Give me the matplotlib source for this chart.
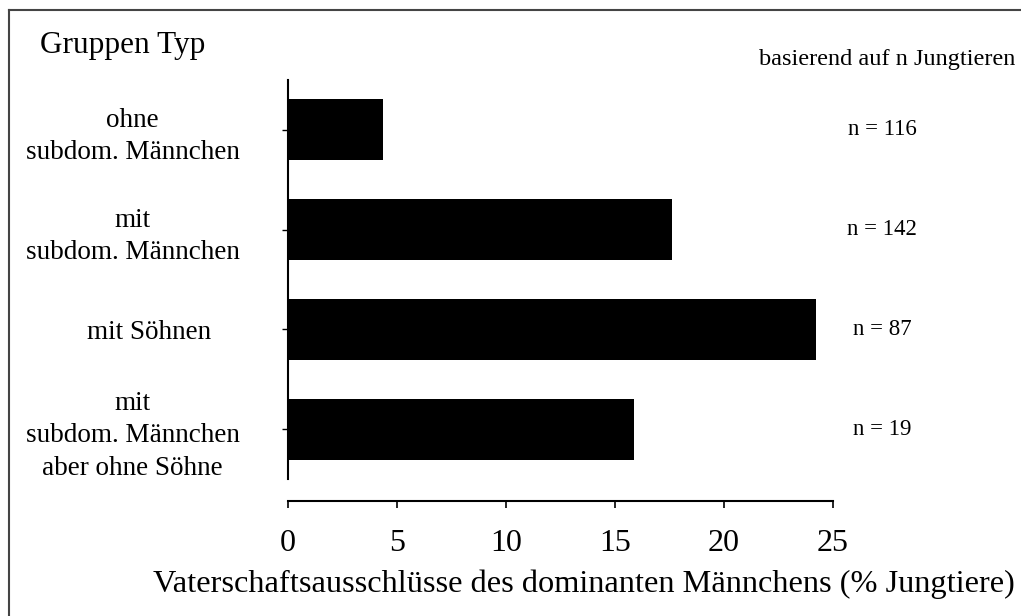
import matplotlib
matplotlib.use("Agg")
import matplotlib.pyplot as plt
from matplotlib.lines import Line2D

plt.rcParams['font.family'] = ['Liberation Serif', 'DejaVu Serif']

# data
gruppen = ['ohne\nsubdom. Männchen',
           'mit\nsubdom. Männchen',
           'mit Söhnen',
           'mit\nsubdom. Männchen\naber ohne Söhne']
ausschluesse = [4.35, 17.6, 24.2, 15.85]   # % Jungtiere
n_jungtiere = [116, 142, 87, 19]
xticks = [0, 5, 10, 15, 20, 25]

fig = plt.figure(figsize=(10.21, 6.16), dpi=100)
ax = fig.add_axes([0.2821, 0.2224, 0.5338, 0.6477])

pos = list(range(len(gruppen)))
ax.barh(pos, ausschluesse, height=0.61, color='black', align='center')

ax.set_xlim(0, 25)
ax.set_ylim(len(gruppen) - 0.5, -0.5)

for s in ['top', 'right']:
    ax.spines[s].set_visible(False)
ax.spines['left'].set_linewidth(1.5)
ax.spines['bottom'].set_linewidth(1.5)
ax.spines['bottom'].set_position(('outward', 16))
ax.spines['bottom'].set_bounds(0, 25)

ax.set_xticks(xticks)
ax.set_xticklabels([str(t) for t in xticks], fontsize=23)
ax.tick_params(axis='x', length=5, width=1.2, pad=15)

ax.set_yticks(pos)
ax.set_yticklabels(gruppen, fontsize=19.5, ha='center', linespacing=1.4)
ax.tick_params(axis='y', length=4, width=1.0, pad=108)
# single-line label sits a bit more to the right in the original
ax.yaxis.get_major_ticks()[2].label1.set_x(17 / 545)

ax.set_xlabel('Vaterschaftsausschlüsse des dominanten Männchens (% Jungtiere)',
              fontsize=23.3, va='center')
ax.xaxis.set_label_coords(0.543, -0.263)

# n labels to the right of the bars
for i, n in enumerate(n_jungtiere):
    ax.text(27.25, i, 'n = %d' % n, fontsize=16.5, ha='center', va='center',
            clip_on=False)

fig.text(40 / 1021, 1 - 46 / 616, 'Gruppen Typ', fontsize=22.5, ha='left', va='center')
fig.text(1015 / 1021, 1 - 60 / 616, 'basierend auf n Jungtieren', fontsize=17.5,
         ha='right', va='center')

# frame of the scanned page (left and top edge)
fig.add_artist(Line2D([9 / 1021, 9 / 1021], [0, 1 - 10 / 616], transform=fig.transFigure,
                      color='#444444', linewidth=1.5))
fig.add_artist(Line2D([9 / 1021, 1], [1 - 10 / 616, 1 - 10 / 616], transform=fig.transFigure,
                      color='#444444', linewidth=1.5))

fig.savefig('out.png', dpi=100)
